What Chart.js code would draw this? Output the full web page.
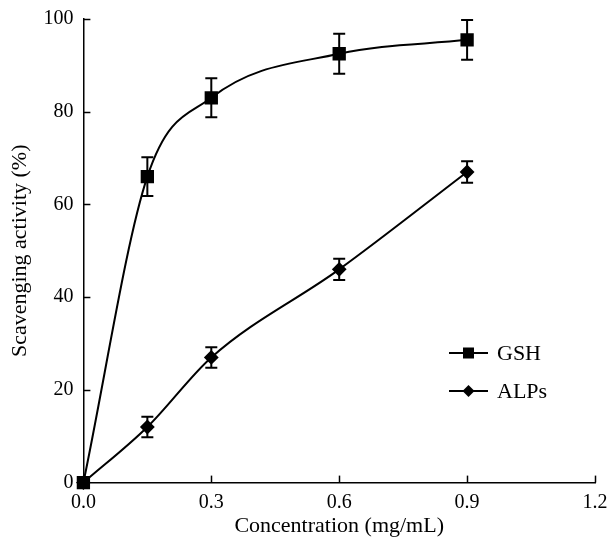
<!DOCTYPE html>
<html><head><meta charset="utf-8">
<script src="https://cdn.jsdelivr.net/npm/chart.js@4/dist/chart.umd.min.js"></script>
<style>html,body{margin:0;padding:0;background:#fff}#wrap{width:608px;height:539px}</style>
</head><body><div id="wrap"><canvas id="c" width="608" height="539"></canvas></div>
<script>
const concentrations = [0, 0.15, 0.3, 0.6, 0.9];
const gshValues = [0, 66, 83, 92.5, 95.5];
const gshErrors = [0, 4.2, 4.2, 4.3, 4.3];
const alpsValues = [0, 12, 27, 46, 67];
const alpsErrors = [0, 2.2, 2.2, 2.3, 2.3];
const xTicks = [0, 0.3, 0.6, 0.9, 1.2];
const yTicks = [0, 20, 40, 60, 80, 100];
const seriesNames = ['GSH', 'ALPs'];

const FONT = '"Liberation Serif", "Times New Roman", serif';

const errorBars = {
  id: 'errorBars',
  afterDatasetsDraw(chart) {
    const ctx = chart.ctx, xs = chart.scales.x, ys = chart.scales.y;
    ctx.save();
    ctx.strokeStyle = '#000'; ctx.lineWidth = 2;
    chart.data.datasets.forEach(ds => {
      ds.data.forEach((p, i) => {
        const e = ds.errors[i];
        if (!e) return;
        const px = xs.getPixelForValue(p.x);
        const top = ys.getPixelForValue(p.y + e), bot = ys.getPixelForValue(p.y - e);
        ctx.beginPath();
        ctx.moveTo(px, top); ctx.lineTo(px, bot);
        ctx.moveTo(px - 6, top); ctx.lineTo(px + 6, top);
        ctx.moveTo(px - 6, bot); ctx.lineTo(px + 6, bot);
        ctx.stroke();
      });
    });
    ctx.restore();
  }
};

const inwardTicks = {
  id: 'inwardTicks',
  afterDraw(chart) {
    const ctx = chart.ctx, xs = chart.scales.x, ys = chart.scales.y, a = chart.chartArea;
    ctx.save(); ctx.strokeStyle = '#000'; ctx.lineWidth = 1.5;
    xTicks.forEach(v => { if (v === 0) return; const px = Math.round(xs.getPixelForValue(v)) + 0.5; ctx.beginPath(); ctx.moveTo(px, a.bottom); ctx.lineTo(px, a.bottom - 7); ctx.stroke(); });
    yTicks.forEach(v => { if (v === 0) return; const py = Math.round(ys.getPixelForValue(v)) + 0.5; ctx.beginPath(); ctx.moveTo(a.left, py); ctx.lineTo(a.left + 7, py); ctx.stroke(); });
    // legend
    const lx = 449, ly = [353, 391];
    chart.data.datasets.forEach((ds, i) => {
      const y = ly[i];
      ctx.lineWidth = 2; ctx.beginPath(); ctx.moveTo(lx, y); ctx.lineTo(lx + 39, y); ctx.stroke();
      ctx.fillStyle = '#000';
      if (ds.pointStyle === 'rect') { ctx.fillRect(lx + 14, y - 5.5, 11, 11); }
      else { ctx.beginPath(); ctx.moveTo(lx + 19.5, y - 6); ctx.lineTo(lx + 25.5, y); ctx.lineTo(lx + 19.5, y + 6); ctx.lineTo(lx + 13.5, y); ctx.closePath(); ctx.fill(); }
      ctx.font = '22px ' + FONT; ctx.textBaseline = 'middle'; ctx.textAlign = 'left';
      ctx.fillText(ds.label, lx + 48, y + 1);
    });
    ctx.restore();
  }
};

new Chart(document.getElementById('c'), {
  type: 'line',
  data: {
    datasets: [
      { label: seriesNames[0], data: concentrations.map((x, i) => ({x, y: gshValues[i]})), errors: gshErrors,
        borderColor: '#000', backgroundColor: '#000', borderWidth: 2, pointStyle: 'rect', pointRadius: 8, pointHoverRadius: 8,
        cubicInterpolationMode: 'monotone', clip: false },
      { label: seriesNames[1], data: concentrations.map((x, i) => ({x, y: alpsValues[i]})), errors: alpsErrors,
        borderColor: '#000', backgroundColor: '#000', borderWidth: 2, pointStyle: 'rectRot', pointRadius: 6, pointHoverRadius: 6,
        cubicInterpolationMode: 'monotone', clip: false }
    ]
  },
  options: {
    responsive: false, animation: false,
    layout: { padding: { top: 19, right: 13, left: 7, bottom: 0 } },
    plugins: { legend: { display: false }, tooltip: { enabled: false } },
    scales: {
      x: { type: 'linear', min: 0, max: 1.2,
        afterBuildTicks: s => { s.ticks = xTicks.map(v => ({value: v})); },
        afterFit: s => { s.paddingRight = 0; s.paddingLeft = 0; s.height -= 10; },
        grid: { display: false, drawTicks: false },
        border: { display: true, color: '#000', width: 1.5 },
        ticks: { color: '#000', padding: 8, font: { family: FONT, size: 20 }, callback: v => Number(v).toFixed(1) },
        title: { display: true, text: 'Concentration (mg/mL)', color: '#000', font: { family: FONT, size: 22 }, padding: { top: 0, bottom: 0 } } },
      y: { min: 0, max: 100,
        afterBuildTicks: s => { s.ticks = yTicks.map(v => ({value: v})); },
        afterFit: s => { s.paddingTop = 0; s.paddingBottom = 0; },
        grid: { display: false, drawTicks: false },
        border: { display: true, color: '#000', width: 1.5 },
        ticks: { color: '#000', padding: 10, font: { family: FONT, size: 20 } },
        title: { display: true, text: 'Scavenging activity (%)', color: '#000', font: { family: FONT, size: 22 }, padding: { top: 0, bottom: 0 } } }
    }
  },
  plugins: [errorBars, inwardTicks]
});
</script></body></html>
